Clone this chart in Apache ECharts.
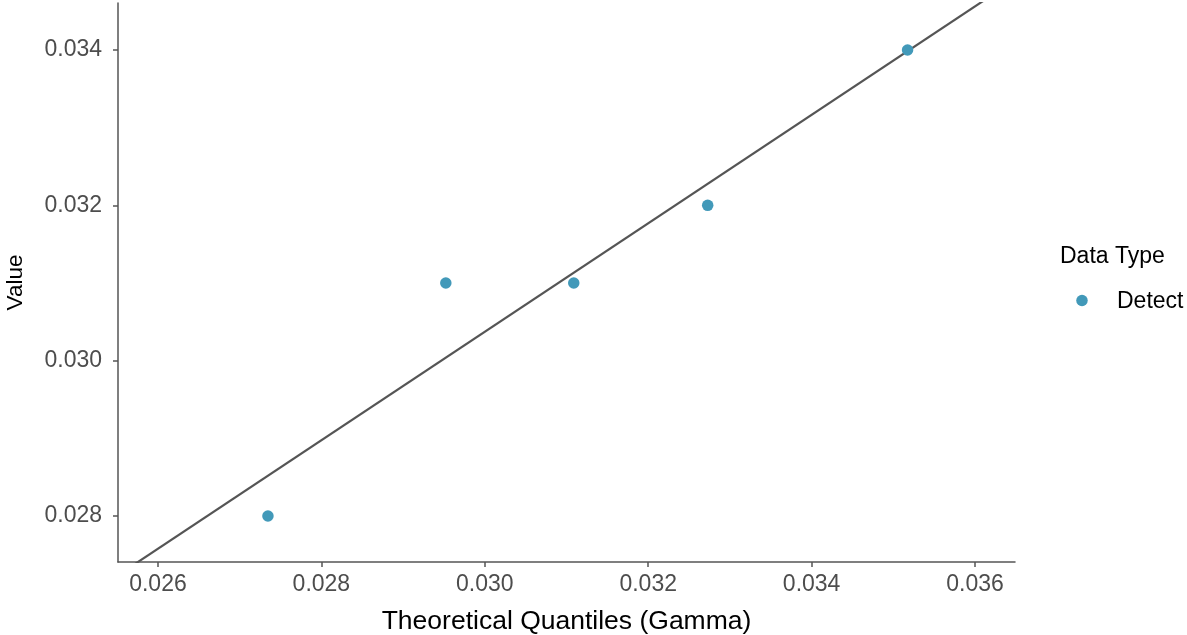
<!DOCTYPE html>
<html>
<head>
<meta charset="utf-8">
<script src="https://cdn.jsdelivr.net/npm/echarts@6/dist/echarts.min.js"></script>
<style>
html,body{margin:0;padding:0;background:#fff;}
#chart{width:1187px;height:635px;}
</style>
</head>
<body>
<div id="chart"></div>
<script>
// Data
const theoreticalQuantiles = [0.027346, 0.029523, 0.031089, 0.032728, 0.035174];
const observedValues = [0.028, 0.031, 0.031, 0.032, 0.034];
const xTicks = [0.026, 0.028, 0.030, 0.032, 0.034, 0.036];
const yTicks = [0.028, 0.030, 0.032, 0.034];
const refSlope = 0.6983;
const refIntercept = 0.009423;
const seriesName = 'Detect';
const legendTitle = 'Data Type';
const xTitle = 'Theoretical Quantiles (Gamma)';
const yTitle = 'Value';

const xMin = 0.025511, xMax = 0.036489;
const yMin = 0.027408, yMax = 0.034605;

const points = theoreticalQuantiles.map((x, i) => [x, observedValues[i]]);
const refLine = [[xMin, refIntercept + refSlope * xMin], [xMax, refIntercept + refSlope * xMax]];

const font = '"Liberation Sans", Arial, Helvetica, sans-serif';
const axisColor = '#555555';
const pointColor = '#4299B9';
const chart = echarts.init(document.getElementById('chart'));
chart.setOption({
  animation: false,
  backgroundColor: '#ffffff',
  grid: { left: 118, right: 172, top: 3, bottom: 73, containLabel: false, outerBoundsMode: 'none' },
  xAxis: {
    type: 'value', min: xMin, max: xMax,
    name: xTitle, nameLocation: 'middle', nameGap: 46.5,
    nameTextStyle: { fontFamily: font, fontSize: 26.5, color: '#000' },
    axisLine: { show: true, lineStyle: { color: axisColor, width: 1.5 } },
    axisTick: { show: true, length: 5, customValues: xTicks, lineStyle: { color: axisColor, width: 1.5 } },
    axisLabel: { customValues: xTicks, margin: 11, fontFamily: font, fontSize: 23, color: '#4d4d4d',
      formatter: v => v.toFixed(3) },
    splitLine: { show: false }
  },
  yAxis: {
    type: 'value', min: yMin, max: yMax,
    name: yTitle, nameLocation: 'middle', nameGap: 91, nameRotate: 90,
    nameTextStyle: { fontFamily: font, fontSize: 22.5, color: '#000' },
    axisLine: { show: true, lineStyle: { color: axisColor, width: 1.5 } },
    axisTick: { show: true, length: 5, customValues: yTicks, lineStyle: { color: axisColor, width: 1.5 } },
    axisLabel: { customValues: yTicks, margin: 16, fontFamily: font, fontSize: 23, color: '#4d4d4d',
      formatter: v => v.toFixed(3) },
    splitLine: { show: false }
  },
  legend: { show: false },
  graphic: [
    { type: 'text', left: 1060, top: 245,
      style: { text: legendTitle, font: '23px ' + font, fill: '#000' } },
    { type: 'circle', shape: { cx: 1082, cy: 300.5, r: 5.75 }, style: { fill: pointColor } },
    { type: 'text', x: 1117, y: 301.5,
      style: { text: seriesName, font: '23px ' + font, fill: '#000', verticalAlign: 'middle' } }
  ],
  series: [
    {
      name: 'ref', type: 'line', data: refLine, symbol: 'none', clip: true,
      lineStyle: { color: '#555555', width: 2.2 }, silent: true, z: 1
    },
    {
      name: seriesName, type: 'scatter', data: points, symbol: 'circle', symbolSize: 11.5,
      itemStyle: { color: pointColor, opacity: 1 }, z: 3
    }
  ]
});
</script>
</body>
</html>
